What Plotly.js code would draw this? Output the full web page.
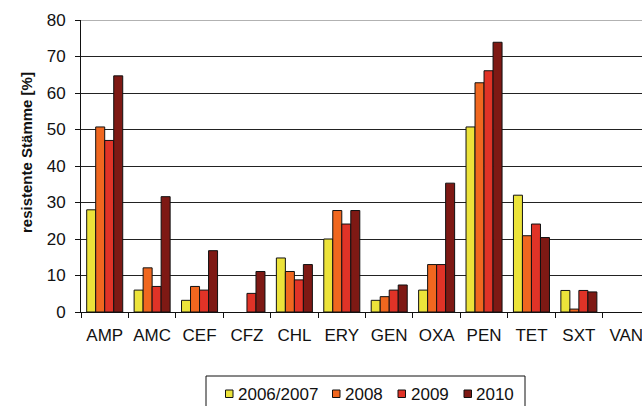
<!DOCTYPE html>
<html>
<head>
<meta charset="utf-8">
<script src="https://cdn.plot.ly/plotly-3.0.1.min.js"></script>
<style>
html,body{margin:0;padding:0;overflow:hidden;background:#fff;}
#chart{width:660px;height:406px;}
</style>
</head>
<body>
<div id="chart"></div>
<script>
const categories = ["AMP","AMC","CEF","CFZ","CHL","ERY","GEN","OXA","PEN","TET","SXT","VAN"];
const seriesNames = ["2006/2007","2008","2009","2010"];
const v2006 = [28, 6, 3.2, null, 14.8, 20, 3.2, 6, 50.7, 32, 5.9, null];
const v2008 = [50.7, 12.1, 7, null, 11.1, 27.8, 4.2, 13, 62.8, 20.9, 0.8, null];
const v2009 = [47, 7, 6, 5.1, 8.8, 24.1, 6, 13, 66.1, 24.1, 5.9, null];
const v2010 = [64.7, 31.6, 16.8, 11.1, 13, 27.8, 7.4, 35.3, 73.9, 20.4, 5.5, null];
const seriesValues = [v2006, v2008, v2009, v2010];
const colors = ["#ECE33A", "#F0671F", "#E03327", "#7E1914"];
const yTicks = [0,10,20,30,40,50,60,70,80];

const font = "Liberation Sans, Arial, sans-serif";

// plot-area geometry in pixels (for placing the hand-drawn legend box)
const W = 660, H = 406, ML = 81, MR = 10, MT = 20, MB = 94;
const PW = W - ML - MR, PH = H - MT - MB;
const px = x => (x - ML) / PW;
const py = y => (H - MB - y) / PH;

const traces = seriesValues.map((vals, i) => ({
  type: "bar",
  name: seriesNames[i],
  x: categories,
  y: vals,
  marker: {color: colors[i], line: {color: "#111", width: 1}},
  hoverinfo: "x+y+name"
}));

// legend entries (symbol left edge, text start) in pixels
const legendSymX = [225.5, 332.5, 398, 464];
const legendTextX = [236.5, 343.5, 409.5, 475.5];
const legendY = 394;

const shapes = [
  {type: "line", xref: "paper", yref: "y", x0: 0, x1: 1, y0: 80, y1: 80, line: {color: "#999", width: 1.5}},
  {type: "rect", xref: "paper", yref: "paper", x0: px(206), x1: px(525), y0: py(376), y1: py(440), line: {color: "#111", width: 1}, fillcolor: "rgba(0,0,0,0)"}
];
const annotations = [
  {text: "<b>resistente Stämme [%]</b>", textangle: -90, xref: "paper", yref: "paper",
   x: px(26), y: py(153), xanchor: "center", yanchor: "middle", showarrow: false,
   font: {family: font, size: 15, color: "#111"}}
];
seriesNames.forEach((n, i) => {
  shapes.push({type: "rect", xref: "paper", yref: "paper",
    x0: px(legendSymX[i]), x1: px(legendSymX[i] + 7.5),
    y0: py(legendY - 4), y1: py(legendY + 3.5),
    fillcolor: colors[i], line: {color: "#111", width: 1}});
  annotations.push({text: n, xref: "paper", yref: "paper",
    x: px(legendTextX[i] - 1), y: py(legendY + 0.5), xanchor: "left", yanchor: "middle",
    showarrow: false, font: {family: font, size: 17, color: "#111"}});
});

const layout = {
  width: W,
  height: H,
  margin: {l: ML, r: MR, t: MT, b: MB, pad: 0},
  paper_bgcolor: "#fff",
  plot_bgcolor: "#fff",
  font: {family: font, size: 17, color: "#111"},
  barmode: "group",
  bargap: 0.24,
  bargroupgap: 0,
  showlegend: false,
  xaxis: {
    type: "category",
    range: [-0.5, 11.5],
    showline: true, linecolor: "#111", linewidth: 1,
    ticks: "outside", tickson: "boundaries", ticklen: 5, tickcolor: "#111",
    ticklabelstandoff: 8,
    showgrid: false,
    tickfont: {family: font, size: 17, color: "#111"},
    fixedrange: true
  },
  yaxis: {
    range: [0, 80],
    tickvals: yTicks,
    showline: true, linecolor: "#111", linewidth: 1,
    ticks: "outside", ticklen: 5, tickcolor: "#111",
    ticklabelstandoff: 6,
    showgrid: true, gridcolor: "#222", gridwidth: 1,
    zeroline: false,
    tickfont: {family: font, size: 17, color: "#111"},
    fixedrange: true
  },
  shapes: shapes,
  annotations: annotations
};

Plotly.newPlot("chart", traces, layout, {displayModeBar: false, staticPlot: true});
</script>
</body>
</html>
